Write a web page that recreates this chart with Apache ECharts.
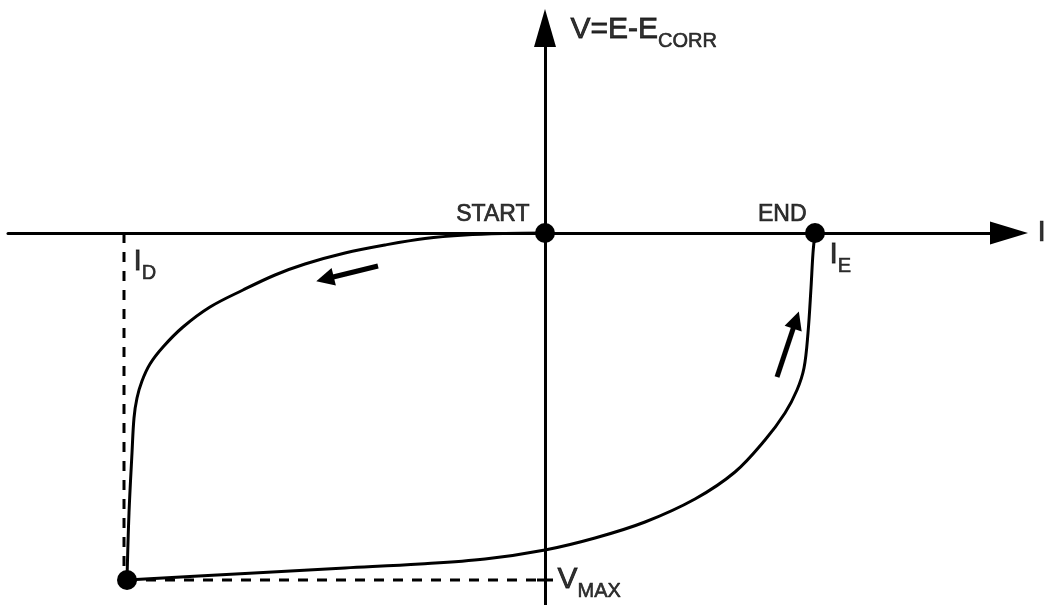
<!DOCTYPE html>
<html>
<head>
<meta charset="utf-8">
<script src="https://cdn.jsdelivr.net/npm/echarts@6/dist/echarts.min.js"></script>
<style>
  html, body { margin: 0; padding: 0; background: #fff; }
  #chart { width: 1052px; height: 605px; }
</style>
</head>
<body>
<div id="chart"></div>
<script>
// Cyclic polarization sweep, current I vs. V = E - Ecorr (arbitrary units)
const sweepToVmax = [
  [0, 0], [-40, -0.5], [-80, -2], [-120, -5.5], [-160, -12], [-200, -20],
  [-240, -31], [-270, -42], [-302, -57], [-335, -74], [-362, -94],
  [-382, -114], [-395, -131], [-403, -148], [-408, -165], [-411, -185],
  [-413, -220], [-416, -280], [-418, -347]
];
const sweepToEnd = [
  [-418, -347], [-300, -340.5], [-200, -335], [-125, -331], [-60, -326],
  [0, -317], [50, -305], [100, -289], [150, -266], [190, -239],
  [220, -207], [240, -180], [252, -157], [259, -135], [263, -100],
  [266, -55], [268, -20], [270, 0]
];
const startPoint = [0, 0];
const endPoint = [270, 0];
const vmaxPoint = [-418, -347];
const iD = -421;
const vMax = -347;
// Direction-of-sweep arrows: [tail, head]
const sweepArrows = [
  [[-167, -33], [-220, -46]],
  [[232, -144], [251, -87]]
];
const xRange = [-537, 464];
const yRange = [-372, 205];

const font = '"Liberation Sans", Arial, Helvetica, sans-serif';
const ink = '#000';

const subRich = {
  m: { fontSize: 30, lineHeight: 30, verticalAlign: 'top', color: ink, fontFamily: font,
       textBorderColor: ink, textBorderWidth: 0.8 },
  s: { fontSize: 20, lineHeight: 52, color: ink, fontFamily: font,
       textBorderColor: ink, textBorderWidth: 0.6 }
};

function note(value, text, position, distance, offset, size) {
  return {
    value: value,
    label: {
      show: true,
      formatter: text,
      position: position,
      distance: distance,
      offset: offset,
      fontSize: size || 30,
      color: ink,
      fontFamily: font,
      textBorderColor: ink,
      textBorderWidth: 0.7,
      rich: subRich
    }
  };
}

const notes = [
  note([xRange[1], 0], 'I', 'right', 28, [0, 0]),
  note([0, yRange[1]], '{m|V=E-E}{s|CORR}', 'right', 25, [0, 13]),
  note(startPoint, 'START', 'left', 15, [0, -18], 23),
  note(endPoint, 'END', 'left', 8, [0, -18], 23),
  note(endPoint, '{m|I}{s|E}', 'right', 14, [0, 33]),
  note([iD, 0], '{m|I}{s|D}', 'right', 9, [0, 40]),
  note([0, vMax], '{m|V}{s|MAX}', 'right', 12, [0, 11])
];

const chart = echarts.init(document.getElementById('chart'), null, { renderer: 'canvas' });

chart.setOption({
  animation: false,
  backgroundColor: '#fff',
  grid: { left: 8, right: 43, top: 28, bottom: 0, containLabel: false },
  xAxis: {
    type: 'value', min: xRange[0], max: xRange[1],
    axisLine: {
      onZero: true,
      lineStyle: { color: ink, width: 3 },
      symbol: ['none', 'triangle'],
      symbolSize: [23, 38]
    },
    axisTick: { show: false }, axisLabel: { show: false }, splitLine: { show: false }
  },
  yAxis: {
    type: 'value', min: yRange[0], max: yRange[1],
    axisLine: {
      onZero: true,
      lineStyle: { color: ink, width: 3 },
      symbol: ['none', 'triangle'],
      symbolSize: [22, 38]
    },
    axisTick: { show: false }, axisLabel: { show: false }, splitLine: { show: false }
  },
  series: [
    {
      name: 'I_D', type: 'line', data: [[iD, 0], [iD, vMax]],
      symbol: 'none', lineStyle: { color: ink, width: 3, type: [10, 9] }, z: 2
    },
    {
      name: 'V_MAX', type: 'line', data: [[vmaxPoint[0], vMax], [0, vMax]],
      symbol: 'none', lineStyle: { color: ink, width: 3, type: [10, 9] }, z: 2
    },
    {
      name: 'V_MAX tick', type: 'line', data: [[-8, vMax], [8, vMax]],
      symbol: 'none', lineStyle: { color: ink, width: 3 }, z: 2
    },
    {
      name: 'reverse sweep', type: 'line', data: sweepToVmax, smooth: 0.35,
      symbol: 'none', lineStyle: { color: ink, width: 3 }, z: 3
    },
    {
      name: 'return sweep', type: 'line', data: sweepToEnd, smooth: 0.35,
      symbol: 'none', lineStyle: { color: ink, width: 3 }, z: 3
    },
    {
      name: 'direction', type: 'lines', coordinateSystem: 'cartesian2d',
      data: sweepArrows.map(a => ({ coords: a })),
      symbol: ['none', 'triangle'], symbolSize: [13, 18],
      lineStyle: { color: ink, width: 5, opacity: 1 }, z: 4
    },
    {
      name: 'points', type: 'scatter', data: [startPoint, endPoint, vmaxPoint],
      symbol: 'circle', symbolSize: 20, itemStyle: { color: ink, opacity: 1 }, z: 5, clip: false
    },
    {
      name: 'notes', type: 'scatter', data: notes, clip: false,
      symbolSize: 1, itemStyle: { color: 'rgba(0,0,0,0)' }, z: 6, silent: true
    }
  ]
});
</script>
</body>
</html>
